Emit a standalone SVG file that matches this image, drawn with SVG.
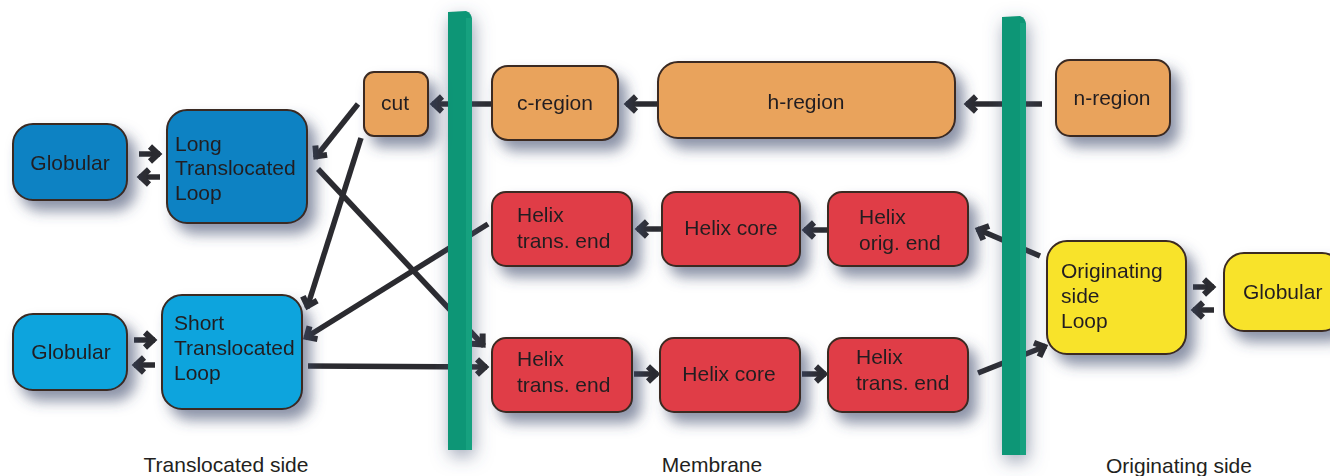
<svg xmlns="http://www.w3.org/2000/svg" width="1330" height="476" viewBox="0 0 1330 476">
<style>
  .lbl { font-family: "Liberation Sans", Arial, sans-serif; font-size: 21px; fill: #231f20; }
  .c { text-anchor: middle; }
  .box { stroke: #3a2a22; stroke-width: 2; }
  .dblue { fill: #0B82C3; }
  .lblue { fill: #0AA4DD; }
  .orange { fill: #E9A35C; }
  .red { fill: #E03E46; }
  .yellow { fill: #F8E32B; }
  .edge { fill: none; stroke: #2b2b30; stroke-width: 5.5; marker-end: url(#ah); }
</style>
<defs>
  <filter id="sh" x="-30%" y="-30%" width="170%" height="170%">
    <feGaussianBlur in="SourceAlpha" stdDeviation="7"/>
    <feOffset dx="8" dy="10" result="b"/>
    <feFlood flood-color="#3e4a6c" flood-opacity="0.6"/>
    <feComposite in2="b" operator="in"/>
    <feMerge><feMergeNode/><feMergeNode in="SourceGraphic"/></feMerge>
  </filter>
  <filter id="shbar" x="-300%" y="-10%" width="700%" height="120%">
    <feGaussianBlur in="SourceAlpha" stdDeviation="9"/>
    <feOffset dx="2" dy="6" result="b"/>
    <feFlood flood-color="#4a5878" flood-opacity="0.55"/>
    <feComposite in2="b" operator="in"/>
    <feMerge><feMergeNode/><feMergeNode in="SourceGraphic"/></feMerge>
  </filter>
  <marker id="ah" viewBox="-16 -12 20 24" refX="0" refY="0" markerWidth="20" markerHeight="24" markerUnits="userSpaceOnUse" orient="auto">
    <path d="M-10,-7.5 L-2,0 L-10,7.5" fill="none" stroke="#2b2b30" stroke-width="6"/>
  </marker>
</defs>
<rect width="1330" height="476" fill="#ffffff"/>

<g id="connectors">
  <line class="edge" x1="139" y1="154" x2="160" y2="154"/>
  <line class="edge" x1="160" y1="177" x2="139" y2="177"/>
  <line class="edge" x1="134" y1="340" x2="155" y2="340"/>
  <line class="edge" x1="155" y1="365" x2="134" y2="365"/>
  <line class="edge" x1="1193" y1="287" x2="1214" y2="287"/>
  <line class="edge" x1="1214" y1="310" x2="1193" y2="310"/>
  <line class="edge" x1="492" y1="104" x2="432" y2="104"/>
  <line class="edge" x1="658" y1="104" x2="626" y2="104"/>
  <line class="edge" x1="1042" y1="104" x2="966" y2="104"/>
  <line class="edge" x1="358" y1="104" x2="315" y2="158"/>
  <line class="edge" x1="361" y1="138" x2="307" y2="308"/>
  <line class="edge" x1="318" y1="169" x2="484" y2="346"/>
  <line class="edge" x1="488" y1="224" x2="305" y2="338"/>
  <line class="edge" x1="308" y1="366" x2="487" y2="367"/>
  <line class="edge" x1="827" y1="230" x2="804" y2="230"/>
  <line class="edge" x1="661" y1="229" x2="637" y2="229"/>
  <line class="edge" x1="634" y1="374" x2="658" y2="374"/>
  <line class="edge" x1="802" y1="374" x2="826" y2="374"/>
  <line class="edge" x1="1040" y1="256" x2="977" y2="229"/>
  <line class="edge" x1="978" y1="373" x2="1046" y2="346"/>
</g>

<g id="membrane-left" filter="url(#shbar)">
  <path d="M448,12 L466,11 Q472,13 472,20 L472,450 L448,450 Z" fill="#0F9676"/>
  <rect x="466" y="18" width="6" height="432" fill="#14A17F"/>
</g>
<g id="membrane-right" filter="url(#shbar)">
  <path d="M1002,17 L1020,16 Q1026,18 1026,25 L1026,455 L1002,455 Z" fill="#0F9676"/>
  <rect x="1020" y="23" width="6" height="432" fill="#14A17F"/>
</g>

<g id="globular-translocated-1" filter="url(#sh)">
  <rect class="box dblue" x="13" y="124" width="114" height="76" rx="20"/>
  <text class="lbl c" x="70" y="170">Globular</text>
</g>
<g id="long-translocated-loop" filter="url(#sh)">
  <rect class="box dblue" x="167" y="110" width="140" height="113" rx="20"/>
  <text class="lbl" x="175" y="151">Long</text>
  <text class="lbl" x="175" y="175">Translocated</text>
  <text class="lbl" x="175" y="200">Loop</text>
</g>
<g id="globular-translocated-2" filter="url(#sh)">
  <rect class="box lblue" x="13" y="314" width="114" height="76" rx="20"/>
  <text class="lbl c" x="71" y="359">Globular</text>
</g>
<g id="short-translocated-loop" filter="url(#sh)">
  <rect class="box lblue" x="162" y="295" width="140" height="114" rx="20"/>
  <text class="lbl" x="174" y="330">Short</text>
  <text class="lbl" x="174" y="355">Translocated</text>
  <text class="lbl" x="174" y="380">Loop</text>
</g>
<g id="cut" filter="url(#sh)">
  <rect class="box orange" x="364" y="72" width="64" height="64" rx="10"/>
  <text class="lbl c" x="395" y="110">cut</text>
</g>
<g id="c-region" filter="url(#sh)">
  <rect class="box orange" x="492" y="66" width="126" height="74" rx="16"/>
  <text class="lbl c" x="555" y="110">c-region</text>
</g>
<g id="h-region" filter="url(#sh)">
  <rect class="box orange" x="658" y="62" width="297" height="76" rx="20"/>
  <text class="lbl c" x="806" y="109">h-region</text>
</g>
<g id="n-region" filter="url(#sh)">
  <rect class="box orange" x="1056" y="60" width="114" height="76" rx="14"/>
  <text class="lbl c" x="1112" y="105">n-region</text>
</g>
<g id="helix-trans-end-top" filter="url(#sh)">
  <rect class="box red" x="492" y="192" width="140" height="74" rx="14"/>
  <text class="lbl" x="517" y="222">Helix</text>
  <text class="lbl" x="517" y="248">trans. end</text>
</g>
<g id="helix-core-top" filter="url(#sh)">
  <rect class="box red" x="662" y="192" width="138" height="74" rx="14"/>
  <text class="lbl c" x="731" y="235">Helix core</text>
</g>
<g id="helix-orig-end" filter="url(#sh)">
  <rect class="box red" x="828" y="192" width="140" height="74" rx="14"/>
  <text class="lbl" x="859" y="224">Helix</text>
  <text class="lbl" x="859" y="250">orig. end</text>
</g>
<g id="helix-trans-end-bottom-1" filter="url(#sh)">
  <rect class="box red" x="492" y="338" width="140" height="74" rx="14"/>
  <text class="lbl" x="517" y="366">Helix</text>
  <text class="lbl" x="517" y="392">trans. end</text>
</g>
<g id="helix-core-bottom" filter="url(#sh)">
  <rect class="box red" x="660" y="338" width="140" height="74" rx="14"/>
  <text class="lbl c" x="729" y="381">Helix core</text>
</g>
<g id="helix-trans-end-bottom-2" filter="url(#sh)">
  <rect class="box red" x="828" y="338" width="140" height="74" rx="14"/>
  <text class="lbl" x="856" y="364">Helix</text>
  <text class="lbl" x="856" y="390">trans. end</text>
</g>
<g id="originating-side-loop" filter="url(#sh)">
  <rect class="box yellow" x="1047" y="241" width="139" height="113" rx="20"/>
  <text class="lbl" x="1061" y="278">Originating</text>
  <text class="lbl" x="1061" y="303">side</text>
  <text class="lbl" x="1061" y="328">Loop</text>
</g>
<g id="globular-originating" filter="url(#sh)">
  <rect class="box yellow" x="1224" y="253" width="118" height="78" rx="20"/>
  <text class="lbl" x="1243" y="299">Globular</text>
</g>

<g id="captions">
  <text class="lbl c" x="226" y="472">Translocated side</text>
  <text class="lbl c" x="712" y="472">Membrane</text>
  <text class="lbl c" x="1179" y="473">Originating side</text>
</g>
</svg>
